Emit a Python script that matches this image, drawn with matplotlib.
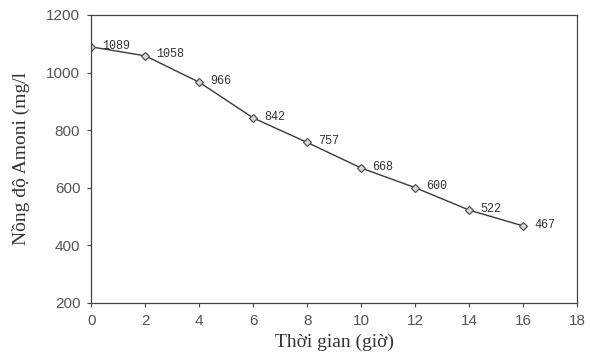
import matplotlib
matplotlib.use("Agg")
import matplotlib.pyplot as plt

# thoi gian (gio) va nong do amoni (mg/l)
hours = [0, 2, 4, 6, 8, 10, 12, 14, 16]
ammonium = [1089, 1058, 966, 842, 757, 668, 600, 522, 467]
x_ticks = [0, 2, 4, 6, 8, 10, 12, 14, 16, 18]
y_ticks = [200, 400, 600, 800, 1000, 1200]

fig = plt.figure(figsize=(5.9, 3.57), dpi=100)
ax = fig.add_axes([0.155, 0.152, 0.823, 0.806])

ax.plot(hours, ammonium, color="#3a3a3a", lw=1.0, marker="D", ms=4,
        mfc="#d8d8d8", mec="#555555", mew=0.9)

for h, v in zip(hours, ammonium):
    ax.annotate(str(v), (h, v), xytext=(8, 1), textcoords="offset points",
                family="Liberation Mono", fontsize=8.5, color="#333333",
                va="center", ha="left")

ax.set_xlim(0, 18)
ax.set_ylim(200, 1200)
ax.set_xticks(x_ticks)
ax.set_yticks(y_ticks)
ax.tick_params(direction="out", length=3, width=0.8, colors="#444444",
               labelsize=11, pad=5)
for lab in ax.get_xticklabels() + ax.get_yticklabels():
    lab.set_family("Liberation Sans")
    lab.set_color("#555555")
for s in ax.spines.values():
    s.set_color("#444444")
    s.set_linewidth(0.9)

ax.set_xlabel("Thời gian (giờ)", family="Liberation Serif", fontsize=14,
              color="#333333", labelpad=4)
ax.set_ylabel("Nồng độ Amoni (mg/l", family="Liberation Serif", fontsize=14,
              color="#333333", labelpad=12)

fig.savefig("out.png", dpi=100)
